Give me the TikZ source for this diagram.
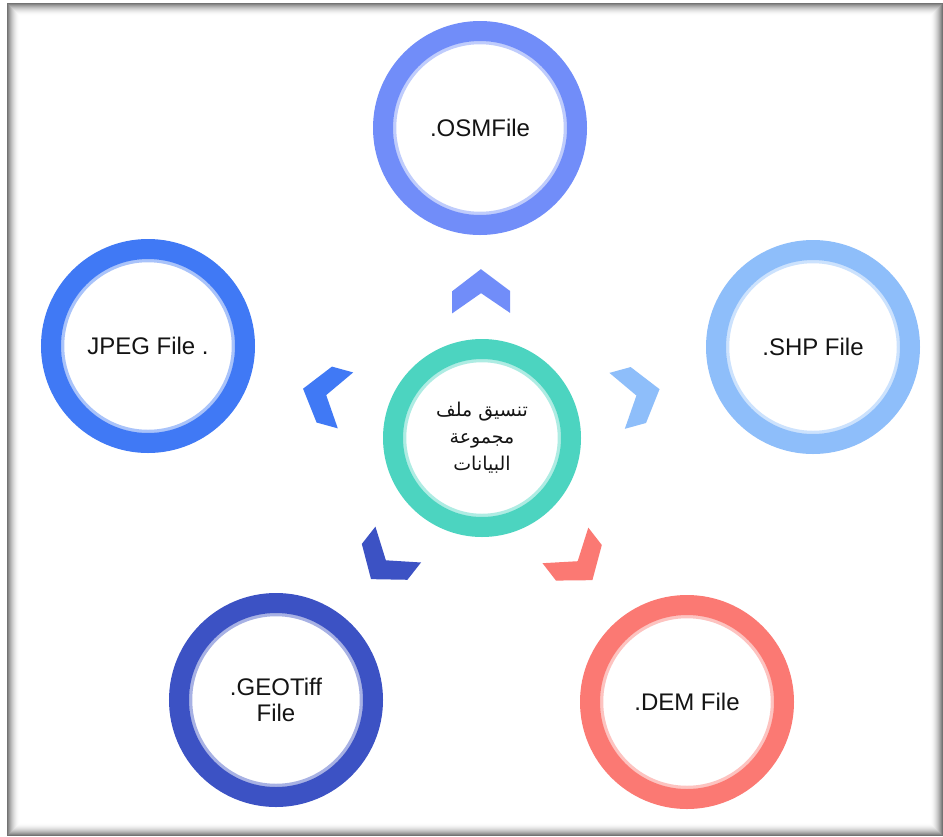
\documentclass[tikz,border=0pt]{standalone}
\usepackage{fontspec}
\setmainfont{Liberation Sans}
\newfontfamily\arabicfont[Script=Arabic]{DejaVu Sans}
\TeXXeTstate=1
\usepackage{tikz}
\usetikzlibrary{positioning}

\definecolor{osmc}{RGB}{113,141,249}
\definecolor{jpgc}{RGB}{64,121,245}
\definecolor{shpc}{RGB}{142,190,250}
\definecolor{hubc}{RGB}{76,212,192}
\definecolor{tifc}{RGB}{60,82,196}
\definecolor{demc}{RGB}{251,121,115}

\begin{document}
\begin{tikzpicture}[
  x=1pt, y=-1pt,
  ring/.style 2 args={circle, draw=#1, line width=20pt, fill=white, inner sep=0pt,
    minimum size={2*#2*1pt}, align=center, text=black!92,
    font=\fontsize{24}{26}\selectfont,
    path picture={\draw[#1!45!white, line width=3.5pt] (path picture bounding box.center) circle ({#2-11.5});}},
  pics/chevron/.style={code={\fill[#1] (22,0) -- (0,29) -- (-22,29) -- (-2,0) -- (-22,-29) -- (0,-29) -- cycle;}}
]
\useasboundingbox (0,0) rectangle (943,836);
\fill[white] (0,0) rectangle (943,836);
% shadowed frame
\foreach \i in {0,...,12} {
  \pgfmathsetmacro\op{0.55*(1-\i/13)^2}
  \draw[black, draw opacity=\op, line width=1pt] (7.5+\i,3.5+\i) rectangle (942.5-\i,835.5-\i);
}

\node[ring={hubc}{89}, font=\arabicfont\fontsize{19}{27}\selectfont] (hub) at (482,438)
  {\beginR تنسيق ملف\endR\\ \beginR مجموعة\endR\\ \beginR البيانات\endR};
\node[ring={osmc}{97}] (osm) at (480,128) {.OSMFile};
\node[ring={jpgc}{97}] (jpg) at (148,346) {JPEG File .};
\node[ring={shpc}{97}] (shp) at (813,347) {.SHP File};
\node[ring={tifc}{97}] (tif) at (276,700) {.GEOTiff\\File};
\node[ring={demc}{97}] (dem) at (687,702) {.DEM File};

\path (hub) -- pic[pos=.46, sloped, allow upside down]{chevron=osmc} (osm);
\path (hub) -- pic[pos=.46, sloped, allow upside down]{chevron=jpgc} (jpg);
\path (hub) -- pic[pos=.46, sloped, allow upside down]{chevron=shpc} (shp);
\path (hub) -- pic[pos=.46, sloped, allow upside down]{chevron=tifc} (tif);
\path (hub) -- pic[pos=.46, sloped, allow upside down]{chevron=demc} (dem);
\end{tikzpicture}
\end{document}
